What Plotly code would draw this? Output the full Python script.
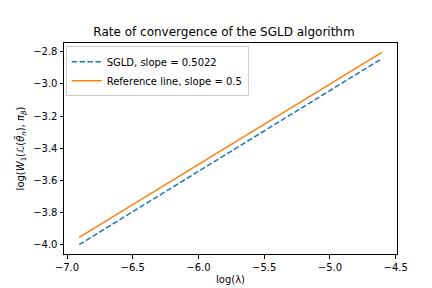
import numpy as np
import plotly.graph_objects as go

# data
log_lambda = [-6.908, -4.605]
sgld_vals = [-4.000, -2.843]
ref_vals = [-3.955, -2.804]
sgld_name = "SGLD, slope = 0.5022"
ref_name = "Reference line, slope = 0.5"
x_ticks = [-7.0, -6.5, -6.0, -5.5, -5.0, -4.5]
y_ticks = [-4.0, -3.8, -3.6, -3.4, -3.2, -3.0, -2.8]

fig = go.Figure()
fig.add_trace(go.Scatter(x=log_lambda, y=sgld_vals, mode="lines", name=sgld_name,
                         line=dict(color="#1f77b4", width=1.5, dash="5.5px,2.4px")))
fig.add_trace(go.Scatter(x=log_lambda, y=ref_vals, mode="lines", name=ref_name,
                         line=dict(color="#ff7f0e", width=1.5)))

axis_common = dict(showline=True, linecolor="black", linewidth=1, mirror=True,
                   ticks="outside", ticklen=3.5, tickwidth=0.8, tickcolor="black",
                   showgrid=False, zeroline=False,
                   tickfont=dict(family="DejaVu Sans", size=10, color="black"))

fig.update_layout(
    width=432, height=288,
    margin=dict(l=54, r=43.2, t=34.56, b=34.56),
    paper_bgcolor="white", plot_bgcolor="white",
    font=dict(family="DejaVu Sans", size=10, color="black"),
    title=dict(text="Rate of convergence of the SGLD algorithm", x=0.5, xanchor="center",
               y=1 - 24 / 288, yanchor="middle", font=dict(size=12, color="black")),
    xaxis=dict(range=[-7.023, -4.490], tickvals=x_ticks, tickformat=".1f",
               title=dict(text="log(λ)", font=dict(size=10), standoff=4), **axis_common),
    yaxis=dict(range=[-4.058, -2.746], tickvals=y_ticks, tickformat=".1f",
               title=dict(text="log(<i>W</i><sub>1</sub>(ℒ(<i>θ̄</i><sub><i>n</i></sub>), <i>π</i><sub><i>β</i></sub>)",
                          font=dict(size=10), standoff=6), **axis_common),
    legend=dict(x=0.005, y=0.985, xanchor="left", yanchor="top",
                bordercolor="#cccccc", borderwidth=1, bgcolor="rgba(255,255,255,0.8)",
                font=dict(size=10), tracegroupgap=0, itemwidth=30),
    showlegend=True,
)

fig.write_html("out.html")
